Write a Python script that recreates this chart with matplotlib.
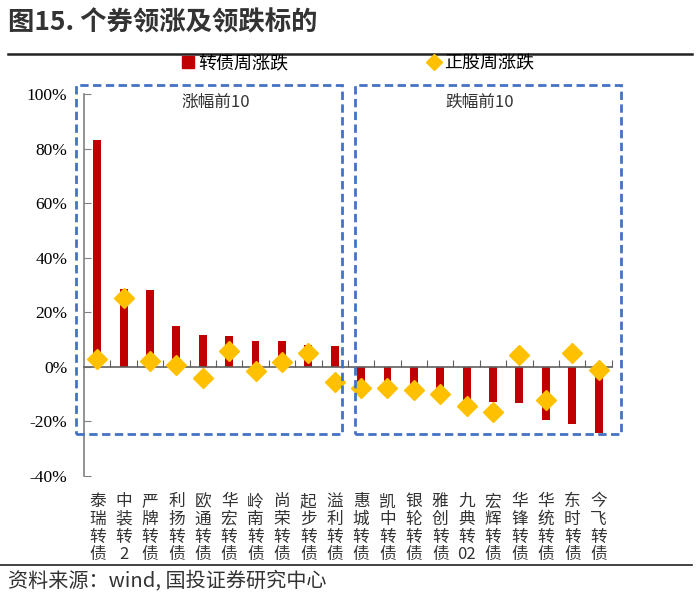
import matplotlib
matplotlib.use("Agg")
import matplotlib.pyplot as plt
import matplotlib.patches as patches
from matplotlib.lines import Line2D
import matplotlib.transforms as mtransforms

plt.rcParams['font.family'] = ['Noto Sans CJK SC', 'DejaVu Sans']

names = ["泰瑞转债", "中装转2", "严牌转债", "利扬转债", "欧通转债",
         "华宏转债", "岭南转债", "尚荣转债", "起步转债", "溢利转债",
         "惠城转债", "凯中转债", "银轮转债", "雅创转债", "九典转02",
         "宏辉转债", "华锋转债", "华统转债", "东时转债", "今飞转债"]
bond_chg = [83.3, 28.7, 28.1, 15.1, 11.7, 11.2, 9.6, 9.6, 7.9, 7.5,
            -6.0, -6.4, -6.5, -8.3, -12.2, -12.7, -13.2, -19.6, -21.1, -24.4]
stock_chg = [2.9, 25.3, 2.1, 0.6, -4.0, 5.7, -1.4, 1.7, 4.9, -5.4,
             -7.7, -7.7, -8.3, -9.9, -14.4, -16.6, 4.4, -12.0, 4.9, -1.3]
yticks = [-40, -20, 0, 20, 40, 60, 80, 100]
groups = [("涨幅前10", 0, 9), ("跌幅前10", 10, 19)]

red = "#C00000"
gold = "#FFC000"
blue = "#4472C4"

fig = plt.figure(figsize=(7, 6.09), dpi=100)
ax = fig.add_axes([0.12, 0.2184, 0.754, 0.6272])

x = list(range(len(names)))
ax.bar(x, bond_chg, width=0.3, color=red, zorder=2)
ax.plot(x, stock_chg, linestyle="none", marker="D", markersize=10.5,
        color=gold, zorder=3)

ax.set_xlim(-0.5, len(names) - 0.5)
ax.set_ylim(-40, 100)
ax.set_yticks(yticks)
ax.set_yticklabels([f"{v}%" for v in yticks])
ax.tick_params(axis="y", direction="in", length=5, color="#808080", pad=12,
               labelsize=12.5, labelfontfamily="Liberation Serif")

for s in ["top", "right"]:
    ax.spines[s].set_visible(False)
ax.spines["left"].set_color("#808080")
ax.spines["left"].set_linewidth(1.2)
ax.spines["bottom"].set_position(("data", 0))
ax.spines["bottom"].set_color("#606060")
ax.spines["bottom"].set_linewidth(1.2)
ax.set_xticks([i + 0.5 for i in x])
ax.set_xticklabels([])
ax.tick_params(axis="x", direction="in", length=5, color="#606060")

# vertical category labels below the plot
trans = mtransforms.blended_transform_factory(ax.transData, ax.transAxes)
for i, n in enumerate(names):
    chars = [n[0], n[1], n[2], n[3:]]
    ax.text(i, -0.045, "\n".join(chars), transform=trans, ha="center",
            va="top", fontsize=12, color="#333333", linespacing=1.05)

# dashed group boxes
for label, a, b in groups:
    x0 = a - 0.80 if a == 0 else a - 0.23
    w = (b - a) + 1.07
    r = patches.Rectangle((x0, -24.6), w, 128.0, fill=False,
                          edgecolor=blue, linestyle=(0, (3, 1.6)),
                          linewidth=2, clip_on=False, zorder=4)
    ax.add_patch(r)
    ax.text((a + b) / 2, 97, label, ha="center", va="center",
            fontsize=12, color="#333333", zorder=5)

# title and rules
fig.text(0.012, 0.962, "图15. 个券领涨及领跌标的", fontsize=19,
         fontweight="bold", color="#333333", va="center")
fig.add_artist(Line2D([0.011, 0.989], [0.912, 0.912], color="#222222",
                      linewidth=1.8))
fig.add_artist(Line2D([0.0, 0.989], [0.072, 0.072], color="#222222",
                      linewidth=1.2))
fig.text(0.012, 0.045, "资料来源：wind, 国投证券研究中心", fontsize=14.5,
         color="#333333", va="center", style="italic")

handles = [Line2D([], [], linestyle="none", marker="s", markersize=8,
                  color=red),
           Line2D([], [], linestyle="none", marker="D", markersize=8,
                  color=gold)]
fig.legend(handles, ["转债周涨跌", "正股周涨跌"], loc="center",
           bbox_to_anchor=(0.51, 0.896), ncol=2, frameon=False,
           fontsize=13, handletextpad=0.1, columnspacing=7.6,
           handlelength=0.9)

fig.savefig("out.png", dpi=100)
